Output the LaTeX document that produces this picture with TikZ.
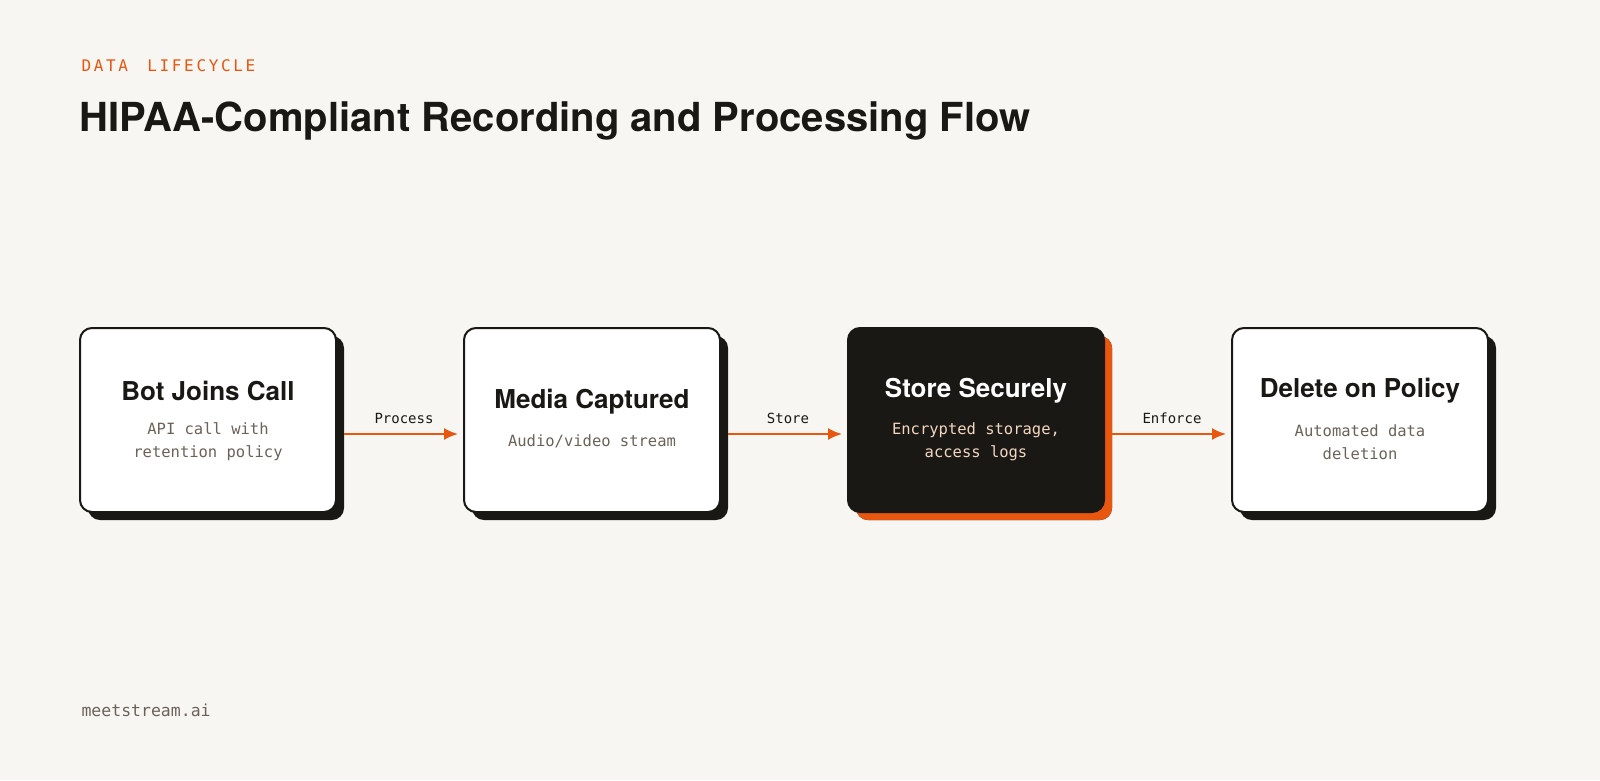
\documentclass[tikz,border=0pt]{standalone}
\usepackage{fontspec}
\setmainfont{TeX Gyre Heros}
\newfontfamily\monofont{DejaVu Sans Mono}
\usetikzlibrary{positioning,arrows.meta}
\definecolor{paper}{HTML}{F7F6F3}
\definecolor{ink}{HTML}{1A1814}
\definecolor{accent}{HTML}{E8560F}
\definecolor{muted}{HTML}{6B6358}
\definecolor{warm}{HTML}{F3D6C0}
\tikzset{
  card/.style={draw=ink, line width=2pt, fill=white, rounded corners=12pt,
    minimum width=256pt, minimum height=184pt},
  shadow/.style={fill=ink, rounded corners=12pt, minimum width=256pt, minimum height=184pt},
  head/.style={font=\fontsize{26}{30}\selectfont\bfseries, text=ink},
  sub/.style={font=\monofont\fontsize{15.5}{23}\selectfont, text=muted, align=center},
  flow/.style={draw=accent, line width=2pt, -{Latex[length=14pt,width=12pt]}, shorten >=6pt},
  tag/.style={font=\monofont\fontsize{14}{16}\selectfont, text=ink, above=6pt}
}
\begin{document}
\begin{tikzpicture}[x=1pt,y=-1pt]
  \fill[paper] (0,0) rectangle (1600,780);
  \useasboundingbox (0,0) rectangle (1600,780);
  % heading
  \node[anchor=base west, text=accent, font=\monofont\fontsize{16}{18}\selectfont] (kicker) at (78,71) {D\,A\,T\,A\ \ L\,I\,F\,E\,C\,Y\,C\,L\,E};
  \node[anchor=base west, text=ink, font=\fontsize{40}{46}\selectfont\bfseries] (title) at (76,131) {HIPAA-Compliant Recording and Processing Flow};
  % cards
  \foreach \name/\cx in {join/208, media/592, store/976, purge/1360} {
    \node[shadow, fill=ink] (\name-s) at (\cx+8,428) {};
  }
  \node[shadow, fill=accent] at (984,428) {};
  \node[card] (join) at (208,420) {};
  \node[card] (media) at (592,420) {};
  \node[card, fill=ink] (store) at (976,420) {};
  \node[card] (purge) at (1360,420) {};
  % card texts
  \node[head] at (208,391) {Bot Joins Call};
  \node[sub] at (208,442) {API call with\\retention policy};
  \node[head] at (592,402) {Media Captured};
  \node[sub] at (592,441) {Audio/video stream};
  \node[head, text=white] at (976,391) {Store Securely};
  \node[sub, text=warm] at (976,442) {Encrypted storage,\\access logs};
  \node[head] at (1360,391) {Delete on Policy};
  \node[sub] at (1360,442) {Automated data\\deletion};
  % connectors
  \coordinate (a1) at (344,434); \coordinate (b1) at (464,434);
  \coordinate (a2) at (728,434); \coordinate (b2) at (848,434);
  \coordinate (a3) at (1112,434); \coordinate (b3) at (1232,434);
  \draw[flow] (a1) -- (b1) node[midway, tag] {Process};
  \draw[flow] (a2) -- (b2) node[midway, tag] {Store};
  \draw[flow] (a3) -- (b3) node[midway, tag] {Enforce};
  % footer
  \node[anchor=base west, text=muted, font=\monofont\fontsize{16.5}{18}\selectfont] (brand) at (78,716) {meetstream.ai};
\end{tikzpicture}
\end{document}
